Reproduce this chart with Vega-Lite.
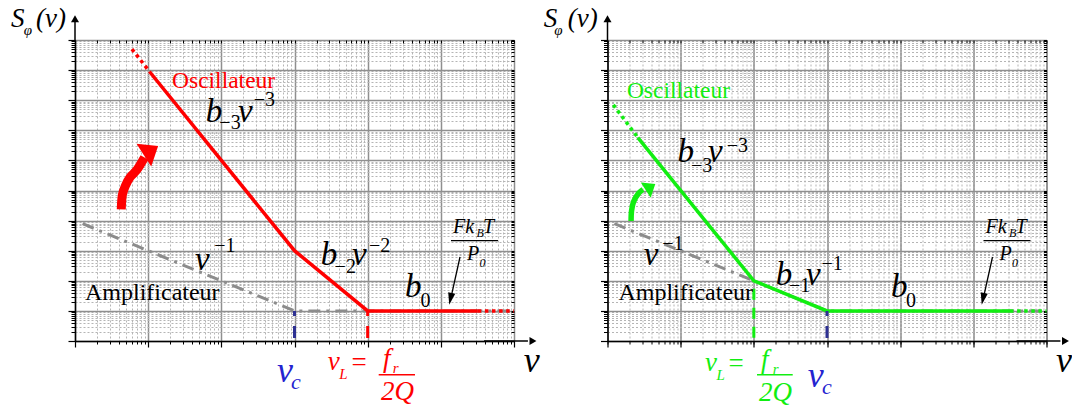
{
  "$schema": "https://vega.github.io/schema/vega-lite/v6.json",
  "background": "white",
  "padding": {"left": 10, "top": 4, "right": 0, "bottom": 0},
  "spacing": 93.5,
  "bounds": "flush",
  "config": {
    "font": "Liberation Serif",
    "view": {"stroke": "#444", "strokeWidth": 1},
    "text": {"font": "Liberation Serif", "align": "left", "baseline": "alphabetic"}
  },
  "hconcat": [
    {
      "width": 439, "height": 301,
      "resolve": {"axis": {"x": "independent", "y": "independent"}},
      "layer": [
        {
          "data": {"values": [{"x": 1.27, "y": 7900}, {"x": 1000, "y": 10}, {"x": 1000000, "y": 10}]},
          "mark": {"type": "line", "color": "#8c8c8c", "strokeWidth": 3, "strokeDash": [12, 6, 3, 6]},
          "encoding": {
            "x": {"field": "x", "type": "quantitative", "scale": {"type": "log", "domain": [1, 1000000]},
                  "axis": {"orient": "bottom", "tickCount": 60, "labels": false, "title": null, "tickSize": 3, "tickWidth": 1, "tickColor": "#000", "domain": true, "domainColor": "#000", "domainWidth": 1.5, "grid": true, "gridColor": "#b5b5b5", "gridWidth": 1, "gridDash": [2, 2]}},
            "y": {"field": "y", "type": "quantitative", "scale": {"type": "log", "domain": [1, 10000000000]},
                  "axis": {"orient": "left", "tickCount": 60, "labels": false, "title": null, "tickSize": 4, "tickWidth": 1, "tickColor": "#000", "domain": true, "domainColor": "#000", "domainWidth": 1.5, "grid": true, "gridColor": "#b5b5b5", "gridWidth": 1, "gridDash": [2, 2]}}
          }
        },
        {
          "data": {"values": [{"x": 10.4, "y": 900000000}, {"x": 1000, "y": 1000}, {"x": 10000, "y": 10}, {"x": 320000, "y": 10}]},
          "mark": {"type": "line", "color": "#ff0000", "strokeWidth": 3.5},
          "encoding": {
            "x": {"field": "x", "type": "quantitative", "scale": {"type": "log", "domain": [1, 1000000]},
                  "axis": {"orient": "bottom", "values": [1, 10, 100, 1000, 10000, 100000, 1000000], "labels": false, "title": null, "tickSize": 6, "tickWidth": 1.2, "tickColor": "#000", "domain": false, "grid": true, "gridColor": "#8f8f8f", "gridWidth": 1.5}},
            "y": {"field": "y", "type": "quantitative", "scale": {"type": "log", "domain": [1, 10000000000]},
                  "axis": {"orient": "left", "values": [1, 10, 100, 1000, 10000, 100000, 1000000, 10000000, 100000000, 1000000000, 10000000000], "labels": false, "title": null, "tickSize": 7, "tickWidth": 1.2, "tickColor": "#000", "domain": false, "grid": true, "gridColor": "#8f8f8f", "gridWidth": 1.5}}
          }
        },
        {
          "data": {"values": [{"seg": 1, "x": 6, "y": 5000000000}, {"seg": 1, "x": 10.4, "y": 900000000}, {"seg": 2, "x": 320000, "y": 10}, {"seg": 2, "x": 1000000, "y": 10}]},
          "mark": {"type": "line", "color": "#ff0000", "strokeWidth": 3.5, "strokeDash": [3.5, 3.6]},
          "encoding": {
            "x": {"field": "x", "type": "quantitative", "scale": {"type": "log", "domain": [1, 1000000]}, "axis": null},
            "y": {"field": "y", "type": "quantitative", "scale": {"type": "log", "domain": [1, 10000000000]}, "axis": null},
            "detail": {"field": "seg"}
          }
        },
        {
          "data": {"values": [{"x": 1000, "y": 10, "y2": 1}]},
          "mark": {"type": "rule", "color": "#2e3192", "strokeWidth": 3, "strokeDash": [12, 10], "strokeDashOffset": 7},
          "encoding": {
            "x": {"field": "x", "type": "quantitative", "scale": {"type": "log", "domain": [1, 1000000]},
                  "axis": {"orient": "top", "tickCount": 60, "labels": false, "title": null, "tickSize": -3, "tickColor": "#000", "domain": false, "grid": false}},
            "y": {"field": "y", "type": "quantitative", "scale": {"type": "log", "domain": [1, 10000000000]},
                  "axis": {"orient": "right", "tickCount": 60, "labels": false, "title": null, "tickSize": -3, "tickColor": "#000", "domain": false, "grid": false}},
            "y2": {"field": "y2"}
          }
        },
        {
          "data": {"values": [{"x": 10000, "y": 10, "y2": 1}]},
          "mark": {"type": "rule", "color": "#ff0000", "strokeWidth": 3, "strokeDash": [12, 10], "strokeDashOffset": 7},
          "encoding": {
            "x": {"field": "x", "type": "quantitative", "scale": {"type": "log", "domain": [1, 1000000]}, "axis": null},
            "y": {"field": "y", "type": "quantitative", "scale": {"type": "log", "domain": [1, 10000000000]}, "axis": null},
            "y2": {"field": "y2"}
          }
        },
        {
          "data": {"values": [{"x": 1, "y": 10000000000, "x2": 1, "y2": 39600000000}, {"x": 389000, "y": 1, "x2": 1550000, "y2": 1}]},
          "mark": {"type": "rule", "color": "#000", "strokeWidth": 1.5},
          "encoding": {
            "x": {"field": "x", "type": "quantitative", "scale": {"type": "log", "domain": [1, 1000000]}, "axis": null},
            "y": {"field": "y", "type": "quantitative", "scale": {"type": "log", "domain": [1, 10000000000]}, "axis": null},
            "x2": {"field": "x2"}, "y2": {"field": "y2"}
          }
        },
        {
          "data": {"values": [{"x": 1, "y": 51000000000}]},
          "mark": {"type": "point", "shape": "triangle-up", "size": 64, "filled": true, "color": "#000", "opacity": 1},
          "encoding": {
            "x": {"field": "x", "type": "quantitative", "scale": {"type": "log", "domain": [1, 1000000]}, "axis": null},
            "y": {"field": "y", "type": "quantitative", "scale": {"type": "log", "domain": [1, 10000000000]}, "axis": null}
          }
        },
        {
          "data": {"values": [{"x": 1817000, "y": 1}]},
          "mark": {"type": "point", "shape": "triangle-right", "size": 64, "filled": true, "color": "#000", "opacity": 1},
          "encoding": {
            "x": {"field": "x", "type": "quantitative", "scale": {"type": "log", "domain": [1, 1000000]}, "axis": null},
            "y": {"field": "y", "type": "quantitative", "scale": {"type": "log", "domain": [1, 10000000000]}, "axis": null}
          }
        },
        {
          "data": {"values": [{"x": 4.29, "y": 23730}, {"x": 4.43, "y": 69300}, {"x": 4.87, "y": 141200}, {"x": 5.7, "y": 281000}, {"x": 7.04, "y": 491000}, {"x": 8.91, "y": 1250000}]},
          "mark": {"type": "line", "color": "#ff0000", "strokeWidth": 9, "interpolate": "cardinal", "strokeCap": "butt"},
          "encoding": {
            "x": {"field": "x", "type": "quantitative", "scale": {"type": "log", "domain": [1, 1000000]}, "axis": null},
            "y": {"field": "y", "type": "quantitative", "scale": {"type": "log", "domain": [1, 10000000000]}, "axis": null}
          }
        },
        {
          "data": {"values": [{"x": 10.93, "y": 2130000}]},
          "mark": {"type": "point", "shape": "M0,-0.63L1,0.63L-1,0.63Z", "size": 729, "angle": 57, "filled": true, "color": "#ff0000", "opacity": 1},
          "encoding": {
            "x": {"field": "x", "type": "quantitative", "scale": {"type": "log", "domain": [1, 1000000]}, "axis": null},
            "y": {"field": "y", "type": "quantitative", "scale": {"type": "log", "domain": [1, 10000000000]}, "axis": null}
          }
        },
        {
          "data": {"values": [{"x": 182800, "y": 618, "x2": 140000, "y2": 33.7}, {"x": 137700, "y": 2149, "x2": 604000, "y2": 2149}]},
          "mark": {"type": "rule", "color": "#000", "strokeWidth": 1.3},
          "encoding": {
            "x": {"field": "x", "type": "quantitative", "scale": {"type": "log", "domain": [1, 1000000]}, "axis": null},
            "y": {"field": "y", "type": "quantitative", "scale": {"type": "log", "domain": [1, 10000000000]}, "axis": null},
            "x2": {"field": "x2"}, "y2": {"field": "y2"}
          }
        },
        {
          "data": {"values": [{"x": 135500, "y": 24.9}]},
          "mark": {"type": "point", "shape": "M-0.6,-1L0.6,-1L0,1Z", "size": 144, "angle": 12, "filled": true, "color": "#000", "opacity": 1},
          "encoding": {
            "x": {"field": "x", "type": "quantitative", "scale": {"type": "log", "domain": [1, 1000000]}, "axis": null},
            "y": {"field": "y", "type": "quantitative", "scale": {"type": "log", "domain": [1, 10000000000]}, "axis": null}
          }
        },
        {
          "data": {"values": [{"x": 14150, "y": 0.0759, "x2": 44340}]},
          "mark": {"type": "rule", "color": "#ff0000", "strokeWidth": 1.5},
          "encoding": {
            "x": {"field": "x", "type": "quantitative", "scale": {"type": "log", "domain": [1, 1000000]}, "axis": null},
            "y": {"field": "y", "type": "quantitative", "scale": {"type": "log", "domain": [1, 10000000000]}, "axis": null},
            "x2": {"field": "x2"}
          }
        },
        {
          "data": {"values": [{"t": "b", "x": 61.0, "y": 19300000}, {"t": "ν", "x": 169, "y": 19300000}, {"t": "ν", "x": 43.6, "y": 228}, {"t": "b", "x": 2286, "y": 335}, {"t": "ν", "x": 6107, "y": 335}, {"t": "b", "x": 32360, "y": 29.6}]},
          "mark": {"type": "text", "fontSize": 33, "fontStyle": "italic", "color": "#000"},
          "encoding": {
            "x": {"field": "x", "type": "quantitative", "scale": {"type": "log", "domain": [1, 1000000]}, "axis": null},
            "y": {"field": "y", "type": "quantitative", "scale": {"type": "log", "domain": [1, 10000000000]}, "axis": null},
            "text": {"field": "t"}
          }
        },
        {
          "data": {"values": [{"t": "−3", "x": 94.0, "y": 11000000}, {"t": "−3", "x": 278, "y": 66200000}, {"t": "−1", "x": 79.8, "y": 885}, {"t": "−2", "x": 3532, "y": 177}, {"t": "−2", "x": 10420, "y": 885}, {"t": "0", "x": 52700, "y": 13.8}]},
          "mark": {"type": "text", "fontSize": 20, "color": "#000"},
          "encoding": {
            "x": {"field": "x", "type": "quantitative", "scale": {"type": "log", "domain": [1, 1000000]}, "axis": null},
            "y": {"field": "y", "type": "quantitative", "scale": {"type": "log", "domain": [1, 10000000000]}, "axis": null},
            "text": {"field": "t"}
          }
        },
        {
          "data": {"values": [{"t": "Amplificateur", "x": 1.37, "y": 23.0}]},
          "mark": {"type": "text", "fontSize": 24, "color": "#000"},
          "encoding": {
            "x": {"field": "x", "type": "quantitative", "scale": {"type": "log", "domain": [1, 1000000]}, "axis": null},
            "y": {"field": "y", "type": "quantitative", "scale": {"type": "log", "domain": [1, 10000000000]}, "axis": null},
            "text": {"field": "t"}
          }
        },
        {
          "data": {"values": [{"t": "Oscillateur", "x": 21.2, "y": 260000000}]},
          "mark": {"type": "text", "fontSize": 23.5, "color": "#ff0000"},
          "encoding": {
            "x": {"field": "x", "type": "quantitative", "scale": {"type": "log", "domain": [1, 1000000]}, "axis": null},
            "y": {"field": "y", "type": "quantitative", "scale": {"type": "log", "domain": [1, 10000000000]}, "axis": null},
            "text": {"field": "t"}
          }
        },
        {
          "data": {"values": [{"t": "Fk", "x": 146600, "y": 3873}, {"t": "T", "x": 377000, "y": 3873}, {"t": "P", "x": 228000, "y": 491}]},
          "mark": {"type": "text", "fontSize": 20, "fontStyle": "italic", "color": "#000"},
          "encoding": {
            "x": {"field": "x", "type": "quantitative", "scale": {"type": "log", "domain": [1, 1000000]}, "axis": null},
            "y": {"field": "y", "type": "quantitative", "scale": {"type": "log", "domain": [1, 10000000000]}, "axis": null},
            "text": {"field": "t"}
          }
        },
        {
          "data": {"values": [{"t": "B", "x": 307000, "y": 2851}, {"t": "0", "x": 338000, "y": 294}]},
          "mark": {"type": "text", "fontSize": 12, "fontStyle": "italic", "color": "#000"},
          "encoding": {
            "x": {"field": "x", "type": "quantitative", "scale": {"type": "log", "domain": [1, 1000000]}, "axis": null},
            "y": {"field": "y", "type": "quantitative", "scale": {"type": "log", "domain": [1, 10000000000]}, "axis": null},
            "text": {"field": "t"}
          }
        },
        {
          "data": {"values": [{"t": "ν", "x": 1356000, "y": 0.0933}]},
          "mark": {"type": "text", "fontSize": 36, "fontStyle": "italic", "color": "#000"},
          "encoding": {
            "x": {"field": "x", "type": "quantitative", "scale": {"type": "log", "domain": [1, 1000000]}, "axis": null},
            "y": {"field": "y", "type": "quantitative", "scale": {"type": "log", "domain": [1, 10000000000]}, "axis": null},
            "text": {"field": "t"}
          }
        },
        {
          "data": {"values": [{"t": "S", "x": 0.1334, "y": 27000000000}, {"t": "(ν)", "x": 0.293, "y": 27000000000}]},
          "mark": {"type": "text", "fontSize": 27, "fontStyle": "italic", "color": "#000"},
          "encoding": {
            "x": {"field": "x", "type": "quantitative", "scale": {"type": "log", "domain": [1, 1000000]}, "axis": null},
            "y": {"field": "y", "type": "quantitative", "scale": {"type": "log", "domain": [1, 10000000000]}, "axis": null},
            "text": {"field": "t"}
          }
        },
        {
          "data": {"values": [{"t": "φ", "x": 0.199, "y": 14700000000}]},
          "mark": {"type": "text", "fontSize": 15, "fontStyle": "italic", "color": "#000"},
          "encoding": {
            "x": {"field": "x", "type": "quantitative", "scale": {"type": "log", "domain": [1, 1000000]}, "axis": null},
            "y": {"field": "y", "type": "quantitative", "scale": {"type": "log", "domain": [1, 10000000000]}, "axis": null},
            "text": {"field": "t"}
          }
        },
        {
          "data": {"values": [{"t": "ν", "x": 576, "y": 0.0434}]},
          "mark": {"type": "text", "fontSize": 36, "fontStyle": "italic", "color": "#2424d0"},
          "encoding": {
            "x": {"field": "x", "type": "quantitative", "scale": {"type": "log", "domain": [1, 1000000]}, "axis": null},
            "y": {"field": "y", "type": "quantitative", "scale": {"type": "log", "domain": [1, 10000000000]}, "axis": null},
            "text": {"field": "t"}
          }
        },
        {
          "data": {"values": [{"t": "c", "x": 896, "y": 0.0245}]},
          "mark": {"type": "text", "fontSize": 22, "fontStyle": "italic", "color": "#2424d0"},
          "encoding": {
            "x": {"field": "x", "type": "quantitative", "scale": {"type": "log", "domain": [1, 1000000]}, "axis": null},
            "y": {"field": "y", "type": "quantitative", "scale": {"type": "log", "domain": [1, 10000000000]}, "axis": null},
            "text": {"field": "t"}
          }
        },
        {
          "data": {"values": [{"t": "ν", "x": 2843, "y": 0.1063}, {"t": "f", "x": 16190, "y": 0.1368}, {"t": "2Q", "x": 15210, "y": 0.01096}]},
          "mark": {"type": "text", "fontSize": 27, "fontStyle": "italic", "color": "#ff0000"},
          "encoding": {
            "x": {"field": "x", "type": "quantitative", "scale": {"type": "log", "domain": [1, 1000000]}, "axis": null},
            "y": {"field": "y", "type": "quantitative", "scale": {"type": "log", "domain": [1, 10000000000]}, "axis": null},
            "text": {"field": "t"}
          }
        },
        {
          "data": {"values": [{"t": "=", "x": 6012, "y": 0.097}]},
          "mark": {"type": "text", "fontSize": 27, "color": "#ff0000"},
          "encoding": {
            "x": {"field": "x", "type": "quantitative", "scale": {"type": "log", "domain": [1, 1000000]}, "axis": null},
            "y": {"field": "y", "type": "quantitative", "scale": {"type": "log", "domain": [1, 10000000000]}, "axis": null},
            "text": {"field": "t"}
          }
        },
        {
          "data": {"values": [{"t": "L", "x": 4093, "y": 0.0559}, {"t": "r", "x": 21980, "y": 0.0885}]},
          "mark": {"type": "text", "fontSize": 15, "fontStyle": "italic", "color": "#ff0000"},
          "encoding": {
            "x": {"field": "x", "type": "quantitative", "scale": {"type": "log", "domain": [1, 1000000]}, "axis": null},
            "y": {"field": "y", "type": "quantitative", "scale": {"type": "log", "domain": [1, 10000000000]}, "axis": null},
            "text": {"field": "t"}
          }
        }
      ]
    },
    {
      "width": 439, "height": 301,
      "resolve": {"axis": {"x": "independent", "y": "independent"}},
      "layer": [
        {
          "data": {"values": [{"x": 1.24, "y": 7900}, {"x": 100, "y": 100}, {"x": 1000, "y": 10}, {"x": 1000000, "y": 10}]},
          "mark": {"type": "line", "color": "#8c8c8c", "strokeWidth": 3, "strokeDash": [12, 6, 3, 6]},
          "encoding": {
            "x": {"field": "x", "type": "quantitative", "scale": {"type": "log", "domain": [1, 1000000]},
                  "axis": {"orient": "bottom", "tickCount": 60, "labels": false, "title": null, "tickSize": 3, "tickWidth": 1, "tickColor": "#000", "domain": true, "domainColor": "#000", "domainWidth": 1.5, "grid": true, "gridColor": "#b5b5b5", "gridWidth": 1, "gridDash": [2, 2]}},
            "y": {"field": "y", "type": "quantitative", "scale": {"type": "log", "domain": [1, 10000000000]},
                  "axis": {"orient": "left", "tickCount": 60, "labels": false, "title": null, "tickSize": 4, "tickWidth": 1, "tickColor": "#000", "domain": true, "domainColor": "#000", "domainWidth": 1.5, "grid": true, "gridColor": "#b5b5b5", "gridWidth": 1, "gridDash": [2, 2]}}
          }
        },
        {
          "data": {"values": [{"x": 2.6, "y": 5700000}, {"x": 100, "y": 100}, {"x": 1000, "y": 10}, {"x": 317000, "y": 10}]},
          "mark": {"type": "line", "color": "#11ee11", "strokeWidth": 3.5},
          "encoding": {
            "x": {"field": "x", "type": "quantitative", "scale": {"type": "log", "domain": [1, 1000000]},
                  "axis": {"orient": "bottom", "values": [1, 10, 100, 1000, 10000, 100000, 1000000], "labels": false, "title": null, "tickSize": 6, "tickWidth": 1.2, "tickColor": "#000", "domain": false, "grid": true, "gridColor": "#8f8f8f", "gridWidth": 1.5}},
            "y": {"field": "y", "type": "quantitative", "scale": {"type": "log", "domain": [1, 10000000000]},
                  "axis": {"orient": "left", "values": [1, 10, 100, 1000, 10000, 100000, 1000000, 10000000, 100000000, 1000000000, 10000000000], "labels": false, "title": null, "tickSize": 7, "tickWidth": 1.2, "tickColor": "#000", "domain": false, "grid": true, "gridColor": "#8f8f8f", "gridWidth": 1.5}}
          }
        },
        {
          "data": {"values": [{"seg": 1, "x": 1.2, "y": 70000000}, {"seg": 1, "x": 2.6, "y": 5700000}, {"seg": 2, "x": 317000, "y": 10}, {"seg": 2, "x": 1000000, "y": 10}]},
          "mark": {"type": "line", "color": "#11ee11", "strokeWidth": 3.5, "strokeDash": [3.5, 3.6]},
          "encoding": {
            "x": {"field": "x", "type": "quantitative", "scale": {"type": "log", "domain": [1, 1000000]}, "axis": null},
            "y": {"field": "y", "type": "quantitative", "scale": {"type": "log", "domain": [1, 10000000000]}, "axis": null},
            "detail": {"field": "seg"}
          }
        },
        {
          "data": {"values": [{"x": 1000, "y": 10, "y2": 1}]},
          "mark": {"type": "rule", "color": "#2e3192", "strokeWidth": 3, "strokeDash": [12, 10], "strokeDashOffset": 7},
          "encoding": {
            "x": {"field": "x", "type": "quantitative", "scale": {"type": "log", "domain": [1, 1000000]},
                  "axis": {"orient": "top", "tickCount": 60, "labels": false, "title": null, "tickSize": -3, "tickColor": "#000", "domain": false, "grid": false}},
            "y": {"field": "y", "type": "quantitative", "scale": {"type": "log", "domain": [1, 10000000000]},
                  "axis": {"orient": "right", "tickCount": 60, "labels": false, "title": null, "tickSize": -3, "tickColor": "#000", "domain": false, "grid": false}},
            "y2": {"field": "y2"}
          }
        },
        {
          "data": {"values": [{"x": 100, "y": 100, "y2": 1}]},
          "mark": {"type": "rule", "color": "#11ee11", "strokeWidth": 3, "strokeDash": [11, 8], "strokeDashOffset": 11},
          "encoding": {
            "x": {"field": "x", "type": "quantitative", "scale": {"type": "log", "domain": [1, 1000000]}, "axis": null},
            "y": {"field": "y", "type": "quantitative", "scale": {"type": "log", "domain": [1, 10000000000]}, "axis": null},
            "y2": {"field": "y2"}
          }
        },
        {
          "data": {"values": [{"x": 1, "y": 10000000000, "x2": 1, "y2": 39600000000}, {"x": 389000, "y": 1, "x2": 1550000, "y2": 1}]},
          "mark": {"type": "rule", "color": "#000", "strokeWidth": 1.5},
          "encoding": {
            "x": {"field": "x", "type": "quantitative", "scale": {"type": "log", "domain": [1, 1000000]}, "axis": null},
            "y": {"field": "y", "type": "quantitative", "scale": {"type": "log", "domain": [1, 10000000000]}, "axis": null},
            "x2": {"field": "x2"}, "y2": {"field": "y2"}
          }
        },
        {
          "data": {"values": [{"x": 1, "y": 51000000000}]},
          "mark": {"type": "point", "shape": "triangle-up", "size": 64, "filled": true, "color": "#000", "opacity": 1},
          "encoding": {
            "x": {"field": "x", "type": "quantitative", "scale": {"type": "log", "domain": [1, 1000000]}, "axis": null},
            "y": {"field": "y", "type": "quantitative", "scale": {"type": "log", "domain": [1, 10000000000]}, "axis": null}
          }
        },
        {
          "data": {"values": [{"x": 1817000, "y": 1}]},
          "mark": {"type": "point", "shape": "triangle-right", "size": 64, "filled": true, "color": "#000", "opacity": 1},
          "encoding": {
            "x": {"field": "x", "type": "quantitative", "scale": {"type": "log", "domain": [1, 1000000]}, "axis": null},
            "y": {"field": "y", "type": "quantitative", "scale": {"type": "log", "domain": [1, 10000000000]}, "axis": null}
          }
        },
        {
          "data": {"values": [{"x": 2.10, "y": 9700}, {"x": 2.13, "y": 20840}, {"x": 2.27, "y": 42460}, {"x": 2.66, "y": 80700}, {"x": 3.06, "y": 107900}]},
          "mark": {"type": "line", "color": "#11ee11", "strokeWidth": 5.5, "interpolate": "cardinal", "strokeCap": "butt"},
          "encoding": {
            "x": {"field": "x", "type": "quantitative", "scale": {"type": "log", "domain": [1, 1000000]}, "axis": null},
            "y": {"field": "y", "type": "quantitative", "scale": {"type": "log", "domain": [1, 10000000000]}, "axis": null}
          }
        },
        {
          "data": {"values": [{"x": 3.87, "y": 130700}]},
          "mark": {"type": "point", "shape": "M0,-0.63L1,0.63L-1,0.63Z", "size": 328, "angle": 57, "filled": true, "color": "#11ee11", "opacity": 1},
          "encoding": {
            "x": {"field": "x", "type": "quantitative", "scale": {"type": "log", "domain": [1, 1000000]}, "axis": null},
            "y": {"field": "y", "type": "quantitative", "scale": {"type": "log", "domain": [1, 10000000000]}, "axis": null}
          }
        },
        {
          "data": {"values": [{"x": 182800, "y": 618, "x2": 140000, "y2": 33.7}, {"x": 137700, "y": 2149, "x2": 604000, "y2": 2149}]},
          "mark": {"type": "rule", "color": "#000", "strokeWidth": 1.3},
          "encoding": {
            "x": {"field": "x", "type": "quantitative", "scale": {"type": "log", "domain": [1, 1000000]}, "axis": null},
            "y": {"field": "y", "type": "quantitative", "scale": {"type": "log", "domain": [1, 10000000000]}, "axis": null},
            "x2": {"field": "x2"}, "y2": {"field": "y2"}
          }
        },
        {
          "data": {"values": [{"x": 135500, "y": 24.9}]},
          "mark": {"type": "point", "shape": "M-0.6,-1L0.6,-1L0,1Z", "size": 144, "angle": 12, "filled": true, "color": "#000", "opacity": 1},
          "encoding": {
            "x": {"field": "x", "type": "quantitative", "scale": {"type": "log", "domain": [1, 1000000]}, "axis": null},
            "y": {"field": "y", "type": "quantitative", "scale": {"type": "log", "domain": [1, 10000000000]}, "axis": null}
          }
        },
        {
          "data": {"values": [{"x": 110.5, "y": 0.0759, "x2": 340}]},
          "mark": {"type": "rule", "color": "#11ee11", "strokeWidth": 1.5},
          "encoding": {
            "x": {"field": "x", "type": "quantitative", "scale": {"type": "log", "domain": [1, 1000000]}, "axis": null},
            "y": {"field": "y", "type": "quantitative", "scale": {"type": "log", "domain": [1, 10000000000]}, "axis": null},
            "x2": {"field": "x2"}
          }
        },
        {
          "data": {"values": [{"t": "b", "x": 9.08, "y": 906000}, {"t": "ν", "x": 23.6, "y": 906000}, {"t": "ν", "x": 3.12, "y": 335}, {"t": "b", "x": 199, "y": 72.5}, {"t": "ν", "x": 516, "y": 72.5}, {"t": "b", "x": 7497, "y": 29.6}]},
          "mark": {"type": "text", "fontSize": 33, "fontStyle": "italic", "color": "#000"},
          "encoding": {
            "x": {"field": "x", "type": "quantitative", "scale": {"type": "log", "domain": [1, 1000000]}, "axis": null},
            "y": {"field": "y", "type": "quantitative", "scale": {"type": "log", "domain": [1, 10000000000]}, "axis": null},
            "text": {"field": "t"}
          }
        },
        {
          "data": {"values": [{"t": "−3", "x": 13.8, "y": 422000}, {"t": "−3", "x": 42.6, "y": 1950000}, {"t": "−1", "x": 5.61, "y": 1055}, {"t": "−1", "x": 303, "y": 43.4}, {"t": "−1", "x": 838, "y": 228}, {"t": "0", "x": 12020, "y": 13.8}]},
          "mark": {"type": "text", "fontSize": 20, "color": "#000"},
          "encoding": {
            "x": {"field": "x", "type": "quantitative", "scale": {"type": "log", "domain": [1, 1000000]}, "axis": null},
            "y": {"field": "y", "type": "quantitative", "scale": {"type": "log", "domain": [1, 10000000000]}, "axis": null},
            "text": {"field": "t"}
          }
        },
        {
          "data": {"values": [{"t": "Amplificateur", "x": 1.41, "y": 23.0}]},
          "mark": {"type": "text", "fontSize": 24, "color": "#000"},
          "encoding": {
            "x": {"field": "x", "type": "quantitative", "scale": {"type": "log", "domain": [1, 1000000]}, "axis": null},
            "y": {"field": "y", "type": "quantitative", "scale": {"type": "log", "domain": [1, 10000000000]}, "axis": null},
            "text": {"field": "t"}
          }
        },
        {
          "data": {"values": [{"t": "Oscillateur", "x": 1.84, "y": 115600000}]},
          "mark": {"type": "text", "fontSize": 23.5, "color": "#11ee11"},
          "encoding": {
            "x": {"field": "x", "type": "quantitative", "scale": {"type": "log", "domain": [1, 1000000]}, "axis": null},
            "y": {"field": "y", "type": "quantitative", "scale": {"type": "log", "domain": [1, 10000000000]}, "axis": null},
            "text": {"field": "t"}
          }
        },
        {
          "data": {"values": [{"t": "Fk", "x": 146600, "y": 3873}, {"t": "T", "x": 377000, "y": 3873}, {"t": "P", "x": 228000, "y": 491}]},
          "mark": {"type": "text", "fontSize": 20, "fontStyle": "italic", "color": "#000"},
          "encoding": {
            "x": {"field": "x", "type": "quantitative", "scale": {"type": "log", "domain": [1, 1000000]}, "axis": null},
            "y": {"field": "y", "type": "quantitative", "scale": {"type": "log", "domain": [1, 10000000000]}, "axis": null},
            "text": {"field": "t"}
          }
        },
        {
          "data": {"values": [{"t": "B", "x": 307000, "y": 2851}, {"t": "0", "x": 338000, "y": 294}]},
          "mark": {"type": "text", "fontSize": 12, "fontStyle": "italic", "color": "#000"},
          "encoding": {
            "x": {"field": "x", "type": "quantitative", "scale": {"type": "log", "domain": [1, 1000000]}, "axis": null},
            "y": {"field": "y", "type": "quantitative", "scale": {"type": "log", "domain": [1, 10000000000]}, "axis": null},
            "text": {"field": "t"}
          }
        },
        {
          "data": {"values": [{"t": "ν", "x": 1349000, "y": 0.0933}]},
          "mark": {"type": "text", "fontSize": 36, "fontStyle": "italic", "color": "#000"},
          "encoding": {
            "x": {"field": "x", "type": "quantitative", "scale": {"type": "log", "domain": [1, 1000000]}, "axis": null},
            "y": {"field": "y", "type": "quantitative", "scale": {"type": "log", "domain": [1, 10000000000]}, "axis": null},
            "text": {"field": "t"}
          }
        },
        {
          "data": {"values": [{"t": "S", "x": 0.1343, "y": 27000000000}, {"t": "(ν)", "x": 0.2857, "y": 27000000000}]},
          "mark": {"type": "text", "fontSize": 27, "fontStyle": "italic", "color": "#000"},
          "encoding": {
            "x": {"field": "x", "type": "quantitative", "scale": {"type": "log", "domain": [1, 1000000]}, "axis": null},
            "y": {"field": "y", "type": "quantitative", "scale": {"type": "log", "domain": [1, 10000000000]}, "axis": null},
            "text": {"field": "t"}
          }
        },
        {
          "data": {"values": [{"t": "φ", "x": 0.1875, "y": 14700000000}]},
          "mark": {"type": "text", "fontSize": 15, "fontStyle": "italic", "color": "#000"},
          "encoding": {
            "x": {"field": "x", "type": "quantitative", "scale": {"type": "log", "domain": [1, 1000000]}, "axis": null},
            "y": {"field": "y", "type": "quantitative", "scale": {"type": "log", "domain": [1, 10000000000]}, "axis": null},
            "text": {"field": "t"}
          }
        },
        {
          "data": {"values": [{"t": "ν", "x": 545, "y": 0.0296}]},
          "mark": {"type": "text", "fontSize": 36, "fontStyle": "italic", "color": "#2424d0"},
          "encoding": {
            "x": {"field": "x", "type": "quantitative", "scale": {"type": "log", "domain": [1, 1000000]}, "axis": null},
            "y": {"field": "y", "type": "quantitative", "scale": {"type": "log", "domain": [1, 10000000000]}, "axis": null},
            "text": {"field": "t"}
          }
        },
        {
          "data": {"values": [{"t": "c", "x": 855, "y": 0.018}]},
          "mark": {"type": "text", "fontSize": 22, "fontStyle": "italic", "color": "#2424d0"},
          "encoding": {
            "x": {"field": "x", "type": "quantitative", "scale": {"type": "log", "domain": [1, 1000000]}, "axis": null},
            "y": {"field": "y", "type": "quantitative", "scale": {"type": "log", "domain": [1, 10000000000]}, "axis": null},
            "text": {"field": "t"}
          }
        },
        {
          "data": {"values": [{"t": "ν", "x": 21.5, "y": 0.1008}, {"t": "f", "x": 125.3, "y": 0.1268}, {"t": "2Q", "x": 117.7, "y": 0.01016}]},
          "mark": {"type": "text", "fontSize": 27, "fontStyle": "italic", "color": "#11ee11"},
          "encoding": {
            "x": {"field": "x", "type": "quantitative", "scale": {"type": "log", "domain": [1, 1000000]}, "axis": null},
            "y": {"field": "y", "type": "quantitative", "scale": {"type": "log", "domain": [1, 10000000000]}, "axis": null},
            "text": {"field": "t"}
          }
        },
        {
          "data": {"values": [{"t": "=", "x": 45.1, "y": 0.0933}]},
          "mark": {"type": "text", "fontSize": 27, "color": "#11ee11"},
          "encoding": {
            "x": {"field": "x", "type": "quantitative", "scale": {"type": "log", "domain": [1, 1000000]}, "axis": null},
            "y": {"field": "y", "type": "quantitative", "scale": {"type": "log", "domain": [1, 10000000000]}, "axis": null},
            "text": {"field": "t"}
          }
        },
        {
          "data": {"values": [{"t": "L", "x": 30.9, "y": 0.0506}, {"t": "r", "x": 181, "y": 0.0801}]},
          "mark": {"type": "text", "fontSize": 15, "fontStyle": "italic", "color": "#11ee11"},
          "encoding": {
            "x": {"field": "x", "type": "quantitative", "scale": {"type": "log", "domain": [1, 1000000]}, "axis": null},
            "y": {"field": "y", "type": "quantitative", "scale": {"type": "log", "domain": [1, 10000000000]}, "axis": null},
            "text": {"field": "t"}
          }
        }
      ]
    }
  ]
}
